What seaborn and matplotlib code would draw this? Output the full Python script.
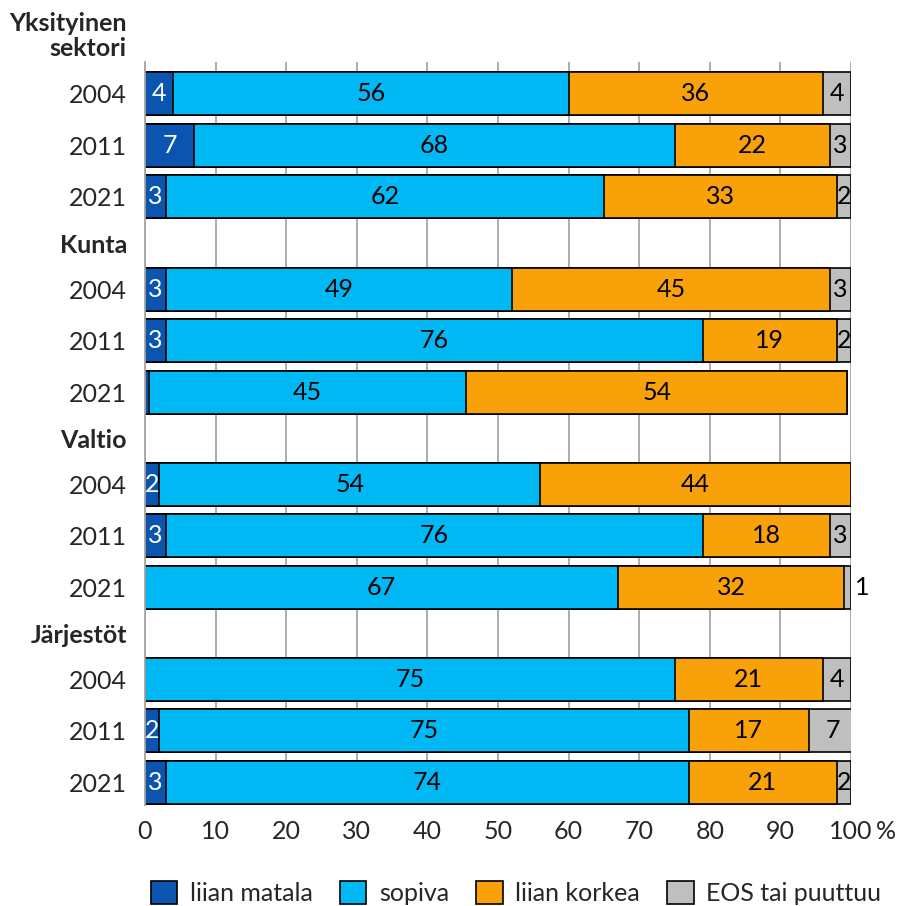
import numpy as np
import pandas as pd
import matplotlib
matplotlib.use("Agg")
import matplotlib.pyplot as plt
from matplotlib.patches import Patch
import seaborn as sns

# Sector groups and survey years
groups = ["Yksityinen\nsektori", "Kunta", "Valtio", "Järjestöt"]
years = ["2004", "2011", "2021"]

# Shares (%) per group and year, in order 2004, 2011, 2021
liian_matala = [4, 7, 3,   3, 3, 0.5,   2, 3, 0,   0, 2, 3]
sopiva       = [56, 68, 62, 49, 76, 45,  54, 76, 67, 75, 75, 74]
liian_korkea = [36, 22, 33, 45, 19, 54,  44, 18, 32, 21, 17, 21]
eos          = [4, 3, 2,   3, 2, 0,     0, 3, 1,   4, 7, 2]

series_names = ["liian matala", "sopiva", "liian korkea", "EOS tai puuttuu"]
series_colors = ["#0b55b1", "#00b8f4", "#f8a109", "#bfbfbf"]
label_colors = ["white", "black", "black", "black"]

x_ticks = [0, 10, 20, 30, 40, 50, 60, 70, 80, 90, 100]

sns.set_style("white")
plt.rcParams["font.family"] = ["Lato", "DejaVu Sans"]
FS = 18

# Vertical layout: bars one unit apart inside a group, groups separated by a header row
GROUP_PITCH = 3.79
HEADER_OFFSET = 0.855
positions = []
for g in range(len(groups)):
    for k in range(len(years)):
        positions.append(g * GROUP_PITCH + k)
header_pos = [g * GROUP_PITCH - HEADER_OFFSET for g in range(len(groups))]

values = np.array([liian_matala, sopiva, liian_korkea, eos], dtype=float)
cum = np.cumsum(values, axis=0)

df = pd.DataFrame({"pos": positions})
for i, name in enumerate(series_names):
    df[name] = cum[i]

fig = plt.figure(figsize=(9.10, 9.06), dpi=100)
ax = fig.add_axes([145 / 910, 1 - 805 / 906, 706 / 910, 743 / 906])

# Stacked bars: draw cumulative totals from the outermost segment inwards
for i in range(len(series_names) - 1, -1, -1):
    sns.barplot(data=df, x=series_names[i], y="pos", orient="y", native_scale=True,
                width=0.835, color=series_colors[i], saturation=1,
                edgecolor="black", linewidth=1.2, errorbar=None, ax=ax, zorder=2)

# Segment value labels
for j, p in enumerate(positions):
    left = 0.0
    for i in range(len(series_names)):
        v = values[i, j]
        if v >= 1:
            if i == 3 and v < 1.5 and left + v >= 99.9 and j == 8:
                ax.text(100.5, p, f"{v:g}", ha="left", va="center", fontsize=FS,
                        color="black", clip_on=False, zorder=4)
            else:
                ax.text(left + v / 2, p, f"{v:g}", ha="center", va="center",
                        fontsize=FS, color=label_colors[i], zorder=4)
        left += v

ax.set_xlim(0, 100)
ax.set_ylim(3 * GROUP_PITCH + 2 + 0.44, -0.62)

ax.set_xticks(x_ticks)
ax.set_xticklabels([str(t) for t in x_ticks], fontsize=FS)
ax.annotate("%", xy=(100, 0), xycoords=ax.get_xaxis_transform(),
            xytext=(18, -11), textcoords="offset points", ha="left", va="top",
            fontsize=FS)

ax.set_yticks(positions)
ax.set_yticklabels(years * len(groups), fontsize=FS)
ax.tick_params(axis="y", length=0, pad=13)
ax.tick_params(axis="x", length=5, width=1.2, color="#a6a6a6", pad=6, direction="out")
ax.set_xlabel("")
ax.set_ylabel("")

for g, hp in enumerate(header_pos):
    y = hp - (0.27 if "\n" in groups[g] else 0)
    ax.annotate(groups[g], xy=(0, y), xycoords=ax.get_yaxis_transform(),
                xytext=(-13, 0), textcoords="offset points", ha="right", va="center",
                fontsize=FS, fontweight="bold", multialignment="right",
                linespacing=1.15, annotation_clip=False)

ax.grid(axis="x", color="#a6a6a6", linewidth=1.3, zorder=0)
ax.grid(axis="y", visible=False)
ax.set_axisbelow(True)
for side in ["top", "right", "bottom"]:
    ax.spines[side].set_visible(False)
ax.spines["left"].set_color("#a6a6a6")
ax.spines["left"].set_linewidth(1.3)

handles = [Patch(facecolor=c, edgecolor="black", linewidth=1.2) for c in series_colors]
fig.legend(handles, series_names, loc="center", bbox_to_anchor=(516 / 910, 1 - 893 / 906),
           ncol=4, frameon=False, fontsize=FS, handlelength=1.05, handleheight=1.05,
           handletextpad=0.5, columnspacing=1.1, borderaxespad=0)

fig.savefig("out.png", dpi=100)
